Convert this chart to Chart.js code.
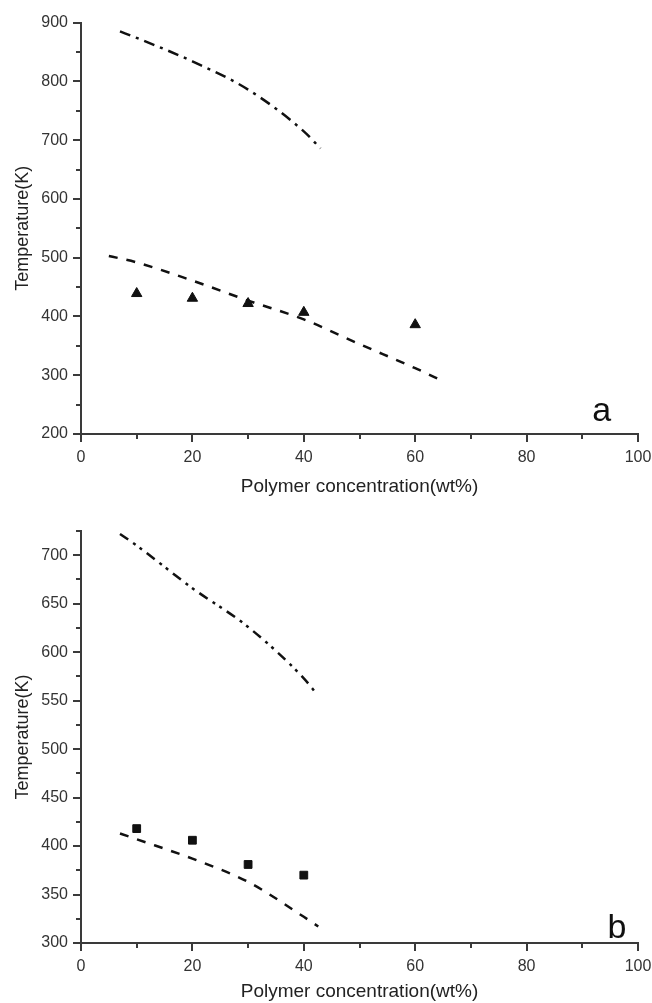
<!DOCTYPE html>
<html>
<head>
<meta charset="utf-8">
<script src="https://cdn.jsdelivr.net/npm/chart.js@4"></script>
<style>
  html, body { margin: 0; padding: 0; background: #fff; }
  #wrap { position: relative; width: 652px; height: 1003px; }
  .panel { position: absolute; left: 0; }
  #panel-a { top: 0; }
  #panel-b { top: 500px; }
</style>
</head>
<body>
<div id="wrap">
  <div class="panel" id="panel-a"><canvas id="chart-a" width="652" height="500"></canvas></div>
  <div class="panel" id="panel-b"><canvas id="chart-b" width="652" height="503"></canvas></div>
</div>
<script>
// ─────────────────────────────────────────────
//  DATA
// ─────────────────────────────────────────────

// panel a – measured points (triangles)
const concA = [10, 20, 30, 40, 60];
const tempA = [439, 431, 422, 407, 386];

// panel a – dashed curve
const dashConcA = [5, 10, 20, 30, 40, 50, 60, 65];
const dashTempA = [503, 492, 461, 427, 395, 353, 312, 290];

// panel a – dash-dot curve
const dotConcA = [7, 10, 20, 30, 40, 43];
const dotTempA = [885, 874, 834, 786, 715, 686];

// panel b – measured points (squares)
const concB = [10, 20, 30, 40];
const tempB = [418, 406, 381, 370];

// panel b – dashed curve
const dashConcB = [7, 10, 20, 30, 40, 42.6];
const dashTempB = [413, 407, 387, 363, 327, 317];

// panel b – dash-dot-dot curve
const dotConcB = [7, 10, 20, 30, 40, 42.3];
const dotTempB = [722, 710, 666, 626, 573, 557];

const xTickLabels = [0, 20, 40, 60, 80, 100];

const AXIS = '#3a3a3a';
const INK  = '#111';
const FONT = "'Liberation Sans', Arial, sans-serif";

Chart.defaults.font.family = FONT;
Chart.defaults.color = '#333';

const pts = (xs, ys) => xs.map((x, i) => ({ x, y: ys[i] }));

// axis ticks (major + minor) and the panel letter
const axisTicks = {
  id: 'axisTicks',
  afterDraw(chart, args, o) {
    const { ctx, scales: { x, y } } = chart;
    ctx.save();
    ctx.strokeStyle = AXIS;
    ctx.lineWidth = 2;
    for (let v = x.min; v <= x.max + 1e-6; v += o.xMinor) {
      const px = Math.round(x.getPixelForValue(v));
      const len = Math.abs(v % o.xMajor) < 1e-6 ? 8 : 5;
      ctx.beginPath(); ctx.moveTo(px, x.top); ctx.lineTo(px, x.top + len); ctx.stroke();
    }
    for (let v = y.min; v <= y.max + 1e-6; v += o.yMinor) {
      const py = Math.round(y.getPixelForValue(v));
      const len = Math.abs(v % o.yMajor) < 1e-6 ? 8 : 5;
      ctx.beginPath(); ctx.moveTo(y.right, py); ctx.lineTo(y.right - len, py); ctx.stroke();
    }
    ctx.fillStyle = '#111';
    ctx.font = '34px ' + FONT;
    ctx.textAlign = 'center';
    ctx.textBaseline = 'alphabetic';
    ctx.fillText(o.letter, x.getPixelForValue(o.letterAt[0]), y.getPixelForValue(o.letterAt[1]));
    ctx.restore();
  }
};

function makeChart(id, cfg) {
  return new Chart(document.getElementById(id), {
    type: 'scatter',
    data: { datasets: cfg.datasets },
    plugins: [axisTicks],
    options: {
      responsive: false,
      animation: false,
      layout: { padding: { left: 0, right: 0, top: cfg.top, bottom: 0 } },
      plugins: {
        legend: { display: false },
        tooltip: { enabled: false },
        axisTicks: cfg.ticks
      },
      scales: {
        x: {
          type: 'linear',
          min: 0, max: 100,
          afterBuildTicks: s => { s.ticks = xTickLabels.map(v => ({ value: v })); },
          afterFit: s => { s.height = cfg.xHeight; s.paddingLeft = 0; s.paddingRight = 14; },
          grid: { display: false, drawTicks: false },
          border: { display: true, color: AXIS, width: 2 },
          ticks: { padding: 14, font: { size: 16 }, color: '#333', maxRotation: 0 },
          title: {
            display: true, text: 'Polymer concentration(wt%)',
            font: { size: 19 }, color: '#222',
            padding: { top: cfg.xTitlePad, bottom: cfg.xTitlePad }
          }
        },
        y: {
          type: 'linear',
          min: cfg.yMin, max: cfg.yMax,
          afterBuildTicks: s => { s.ticks = cfg.yLabels.map(v => ({ value: v })); },
          afterFit: s => { s.width = 81; },
          grid: { display: false, drawTicks: false },
          border: { display: true, color: AXIS, width: 2 },
          ticks: { padding: 13, font: { size: 16 }, color: '#333' },
          title: {
            display: true, text: 'Temperature(K)',
            font: { size: 18 }, color: '#222',
            padding: { top: 12, bottom: 12 }
          }
        }
      }
    }
  });
}

const lineStyle = (data, dash) => ({
  data, showLine: true, borderColor: INK, borderWidth: 2.5,
  borderDash: dash, pointRadius: 0, cubicInterpolationMode: 'monotone', fill: false
});

// panel a
makeChart('chart-a', {
  top: 21, xHeight: 66, xTitlePad: 2,
  yMin: 200, yMax: 900, yLabels: [200, 300, 400, 500, 600, 700, 800, 900],
  ticks: { xMinor: 10, xMajor: 20, yMinor: 50, yMajor: 100, letter: 'a', letterAt: [93.5, 222] },
  datasets: [
    lineStyle(pts(dotConcA, dotTempA), [11, 6, 3, 6]),
    lineStyle(pts(dashConcA, dashTempA), [9, 9]),
    { data: pts(concA, tempA), pointStyle: 'triangle', pointRadius: 6,
      backgroundColor: INK, borderColor: INK, borderWidth: 1, showLine: false }
  ]
});

// panel b
makeChart('chart-b', {
  top: 31, xHeight: 60, xTitlePad: 0,
  yMin: 300, yMax: 725, yLabels: [300, 350, 400, 450, 500, 550, 600, 650, 700],
  ticks: { xMinor: 10, xMajor: 20, yMinor: 25, yMajor: 50, letter: 'b', letterAt: [96.2, 305] },
  datasets: [
    lineStyle(pts(dotConcB, dotTempB), [10, 6, 3, 5, 3, 6]),
    lineStyle(pts(dashConcB, dashTempB), [9, 9]),
    { data: pts(concB, tempB), pointStyle: 'rect', pointRadius: 5.5,
      backgroundColor: INK, borderColor: INK, borderWidth: 1, showLine: false }
  ]
});
</script>
</body>
</html>
